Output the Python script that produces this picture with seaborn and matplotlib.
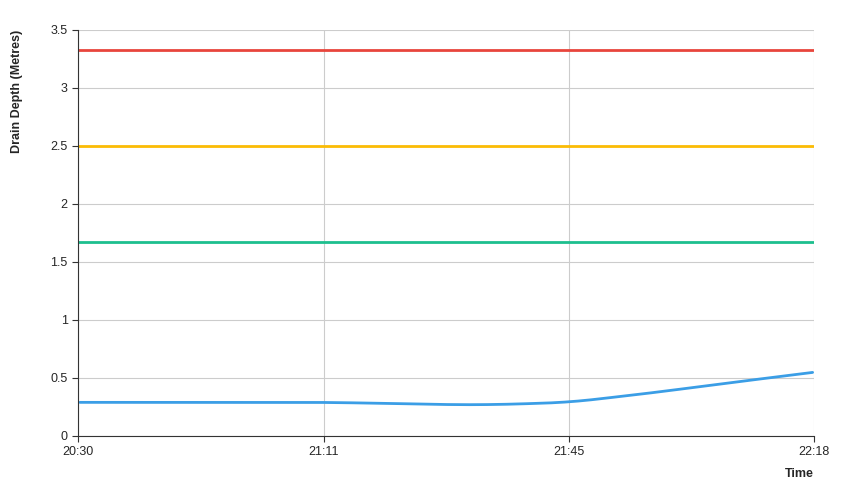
import numpy as np
import pandas as pd
import matplotlib
matplotlib.use("Agg")
import matplotlib.pyplot as plt
import seaborn as sns

sns.set_style("white")
plt.rcParams['font.family'] = ['Liberation Sans', 'DejaVu Sans']

tick_labels = ["20:30", "21:11", "21:45", "22:18"]
# position along the time axis, 0..3 between the labelled ticks
pos = [0, 0.5, 1.0, 1.3, 1.5, 1.7, 2.0, 2.33, 2.66, 3.0]
drain = [0.29, 0.29, 0.29, 0.28, 0.27, 0.27, 0.29, 0.37, 0.46, 0.55]
level_red = 3.33
level_yellow = 2.5
level_green = 1.67

df = pd.DataFrame({"pos": pos, "depth": drain})

fig, ax = plt.subplots(figsize=(8.5, 5), dpi=100)
fig.subplots_adjust(left=0.092, right=0.958, top=0.94, bottom=0.128)

ax.grid(True, color="#cccccc", linewidth=0.8)
ax.set_axisbelow(True)
for y, c in [(level_red, "#e8453c"), (level_yellow, "#fbbc05"), (level_green, "#1dbf8e")]:
    ax.plot([0, 3], [y, y], color=c, linewidth=2)

# smooth the read points for drawing (linear extension past the ends keeps the edges straight)
xs = np.linspace(-0.3, 3.3, 400)
ys = np.interp(xs, df["pos"], df["depth"])
slope = (df["depth"].iloc[-1] - df["depth"].iloc[-2]) / (df["pos"].iloc[-1] - df["pos"].iloc[-2])
ys = np.where(xs > 3, df["depth"].iloc[-1] + slope * (xs - 3), ys)
ys = pd.Series(ys).rolling(25, center=True, min_periods=1).mean().to_numpy()
keep = (xs >= 0) & (xs <= 3)
sns.lineplot(x=xs[keep], y=ys[keep], ax=ax, color="#3b9ee6", linewidth=2)

ax.set_xlim(0, 3)
ax.set_ylim(0, 3.5)
ax.set_xticks(range(4))
ax.set_xticklabels(tick_labels)
ax.set_yticks([0, 0.5, 1, 1.5, 2, 2.5, 3, 3.5])
ax.set_yticklabels(["0", "0.5", "1", "1.5", "2", "2.5", "3", "3.5"])
ax.tick_params(labelsize=9, length=4, color="#333333", bottom=True, left=True)
for s in ["top", "right"]:
    ax.spines[s].set_visible(False)
for s in ["left", "bottom"]:
    ax.spines[s].set_color("#333333")
ax.set_ylabel("Drain Depth (Metres)", fontsize=9, fontweight="bold", loc="top")
ax.yaxis.set_label_coords(-0.075, 1.0)
ax.set_xlabel("Time", fontsize=9, fontweight="bold")
ax.xaxis.set_label_coords(0.98, -0.08)

fig.savefig("out.png")
